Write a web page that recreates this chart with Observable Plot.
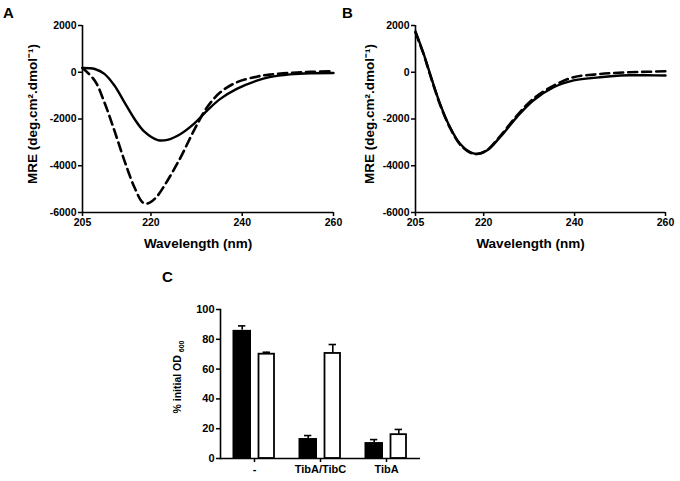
<!DOCTYPE html>
<html>
<head>
<meta charset="utf-8">
<script src="https://cdn.jsdelivr.net/npm/d3@7"></script>
<script src="https://cdn.jsdelivr.net/npm/@observablehq/plot@0.6"></script>
<style>
  html, body { margin: 0; padding: 0; background: #fff; }
  #root { position: relative; width: 680px; height: 481px; overflow: hidden; font-family: "Liberation Sans", Arial, sans-serif; }
  .panel { position: absolute; }
  .letter { position: absolute; font-weight: bold; font-size: 15px; line-height: 15px; color: #000; }
</style>
</head>
<body>
<div id="root">
  <div class="letter" style="left:3px;top:5px">A</div>
  <div class="letter" style="left:342px;top:5px">B</div>
  <div class="letter" style="left:162px;top:269px">C</div>
</div>
<script>
// ---- Panel A data (wavelength nm, MRE) ----
const A_solid_nm  = [205, 207.7, 209.8, 212, 214.2, 216.4, 218.5, 221.5, 223.6, 226.5, 229.4, 232.3, 235.2, 238.8, 243.2, 246, 250.5, 255, 260];
const A_solid_mre = [185, 140, -70, -570, -1290, -2000, -2530, -2900, -2890, -2640, -2210, -1640, -1140, -710, -360, -210, -90, -40, -30];
const A_dash_nm   = [205, 207.7, 209.8, 212, 214.2, 216.4, 218.2, 219.3, 221.1, 223.6, 226.5, 229.4, 232.3, 235.2, 238.8, 243.2, 246, 250.5, 255, 260];
const A_dash_mre  = [185, -360, -1290, -2500, -3790, -4930, -5570, -5610, -5360, -4640, -3640, -2500, -1500, -860, -430, -190, -100, -30, 15, 40];

// ---- Panel B data ----
const B_solid_nm  = [205, 206.8, 208.2, 210.4, 212.6, 214.8, 217, 218.5, 220.7, 223.6, 227.3, 230.9, 235.4, 239.8, 244.2, 248, 252, 256, 260];
const B_solid_mre = [1750, 790, -70, -1350, -2350, -3060, -3420, -3490, -3350, -2780, -1920, -1210, -640, -350, -240, -170, -130, -130, -140];
const B_dash_nm   = [205, 206.8, 208.2, 210.4, 212.6, 214.8, 217, 218.5, 220.7, 223.6, 227.3, 230.9, 235.4, 239.8, 244.2, 248, 252, 256, 260];
const B_dash_mre  = [1700, 760, -100, -1380, -2380, -3090, -3440, -3500, -3340, -2740, -1860, -1140, -570, -210, -100, -40, 0, 20, 40];

const xTicks = [205, 220, 240, 260];
const yTicks = [2000, 0, -2000, -4000, -6000];
const xTitle = "Wavelength (nm)";
const yTitle = "MRE (deg.cm\u00B2.dmol\u207B\u00B9)";

// ---- Panel C data ----
const groups    = ["-", "TibA/TibC", "TibA"];
const blackMean = [86, 13.4, 10.7];
const blackErr  = [3, 2, 2];
const whiteMean = [70, 70.5, 16];
const whiteErr  = [1.3, 6, 3.5];
const cTicks    = [0, 20, 40, 60, 80, 100];

const FONT = "'Liberation Sans', Arial, sans-serif";
const root = document.getElementById("root");

function table(nm, mre) { return nm.map((x, i) => ({nm: x, mre: mre[i]})); }

function cdPanel({solid, dashed, left, marginLeft, marginRight, yTitleDx}) {
  const p = Plot.plot({
    width: 340, height: 252,
    marginLeft, marginRight, marginTop: 25, marginBottom: 40,
    style: {fontFamily: FONT, fontSize: "10.5px", fontWeight: "bold", background: "transparent", overflow: "visible", color: "#000"},
    x: {domain: [205, 260]},
    y: {domain: [-6000, 2000]},
    marks: [
      Plot.axisX({ticks: xTicks, tickSize: 4, tickPadding: 2, strokeWidth: 1.5, tickFormat: d => String(d), label: null}),
      Plot.axisY({ticks: yTicks, tickSize: 4, tickPadding: 2, strokeWidth: 1.5, tickFormat: d => String(d), label: null}),
      Plot.ruleX([205], {strokeWidth: 1.6}),
      Plot.ruleY([-6000], {strokeWidth: 1.6}),
      Plot.line(dashed, {x: "nm", y: "mre", curve: "catmull-rom", strokeWidth: 2.6, strokeDasharray: "9,5"}),
      Plot.line(solid, {x: "nm", y: "mre", curve: "catmull-rom", strokeWidth: 2.4}),
      Plot.text([xTitle], {frameAnchor: "bottom", textAnchor: "middle", lineAnchor: "middle", dx: -10, dy: 31, fontSize: 13.5, fontWeight: "bold"}),
      Plot.text([yTitle], {frameAnchor: "left", textAnchor: "middle", lineAnchor: "middle", rotate: -90, dx: yTitleDx, dy: -5, fontSize: 13.5, fontWeight: "bold"})
    ]
  });
  p.classList.add("panel");
  p.style.left = left + "px";
  p.style.top = "0px";
  root.appendChild(p);
}

cdPanel({solid: table(A_solid_nm, A_solid_mre), dashed: table(A_dash_nm, A_dash_mre), left: 0, marginLeft: 82, marginRight: 7, yTitleDx: -50});
cdPanel({solid: table(B_solid_nm, B_solid_mre), dashed: table(B_dash_nm, B_dash_mre), left: 340, marginLeft: 75, marginRight: 15, yTitleDx: -46});

// ---- Panel C ----
const bars = groups.map((g, i) => ({group: g, black: blackMean[i], blackTop: blackMean[i] + blackErr[i], white: whiteMean[i], whiteTop: whiteMean[i] + whiteErr[i]}));

const pc = Plot.plot({
  width: 290, height: 191,
  marginLeft: 70, marginRight: 20, marginTop: 19, marginBottom: 23,
  style: {fontFamily: FONT, fontSize: "11px", fontWeight: "bold", background: "transparent", overflow: "visible", color: "#000"},
  x: {domain: groups, padding: 0},
  y: {domain: [0, 100]},
  marks: [
    Plot.axisX({tickSize: 4, tickPadding: 3, strokeWidth: 1.5, label: null}),
    Plot.axisY({ticks: cTicks, tickSize: 4, tickPadding: 2, strokeWidth: 1.5, label: null}),
    Plot.ruleX(bars, {x: "group", y1: "black", y2: "blackTop", dx: -12.3, strokeWidth: 1.6}),
    Plot.tickY(bars, {x: "group", y: "blackTop", insetLeft: 17, insetRight: 41.7, strokeWidth: 1.6}),
    Plot.ruleX(bars, {x: "group", y1: "white", y2: "whiteTop", dx: 12.3, strokeWidth: 1.6}),
    Plot.tickY(bars, {x: "group", y: "whiteTop", insetLeft: 41.6, insetRight: 17, strokeWidth: 1.6}),
    Plot.barY(bars, {x: "group", y: "black", fill: "#000", insetLeft: 11.5, insetRight: 36}),
    Plot.barY(bars, {x: "group", y: "white", fill: "#fff", stroke: "#000", strokeWidth: 1.8, insetLeft: 37.5, insetRight: 13}),
    Plot.frame({anchor: "left", strokeWidth: 1.6}),
    Plot.ruleY([0], {strokeWidth: 1.6})
  ]
});
pc.classList.add("panel");
pc.style.left = "150px";
pc.style.top = "290px";
root.appendChild(pc);

// y-axis title with subscript for panel C
const svgC = d3.select(pc);
const t = svgC.append("text")
  .attr("transform", "translate(31,87) rotate(-90)")
  .attr("text-anchor", "middle")
  .attr("font-family", FONT)
  .attr("font-weight", "bold")
  .attr("font-size", "10.5px")
  .attr("fill", "#000");
t.append("tspan").text("% initial OD ");
t.append("tspan").attr("font-size", "7px").attr("dy", "3").text("600");
</script>
</body>
</html>
